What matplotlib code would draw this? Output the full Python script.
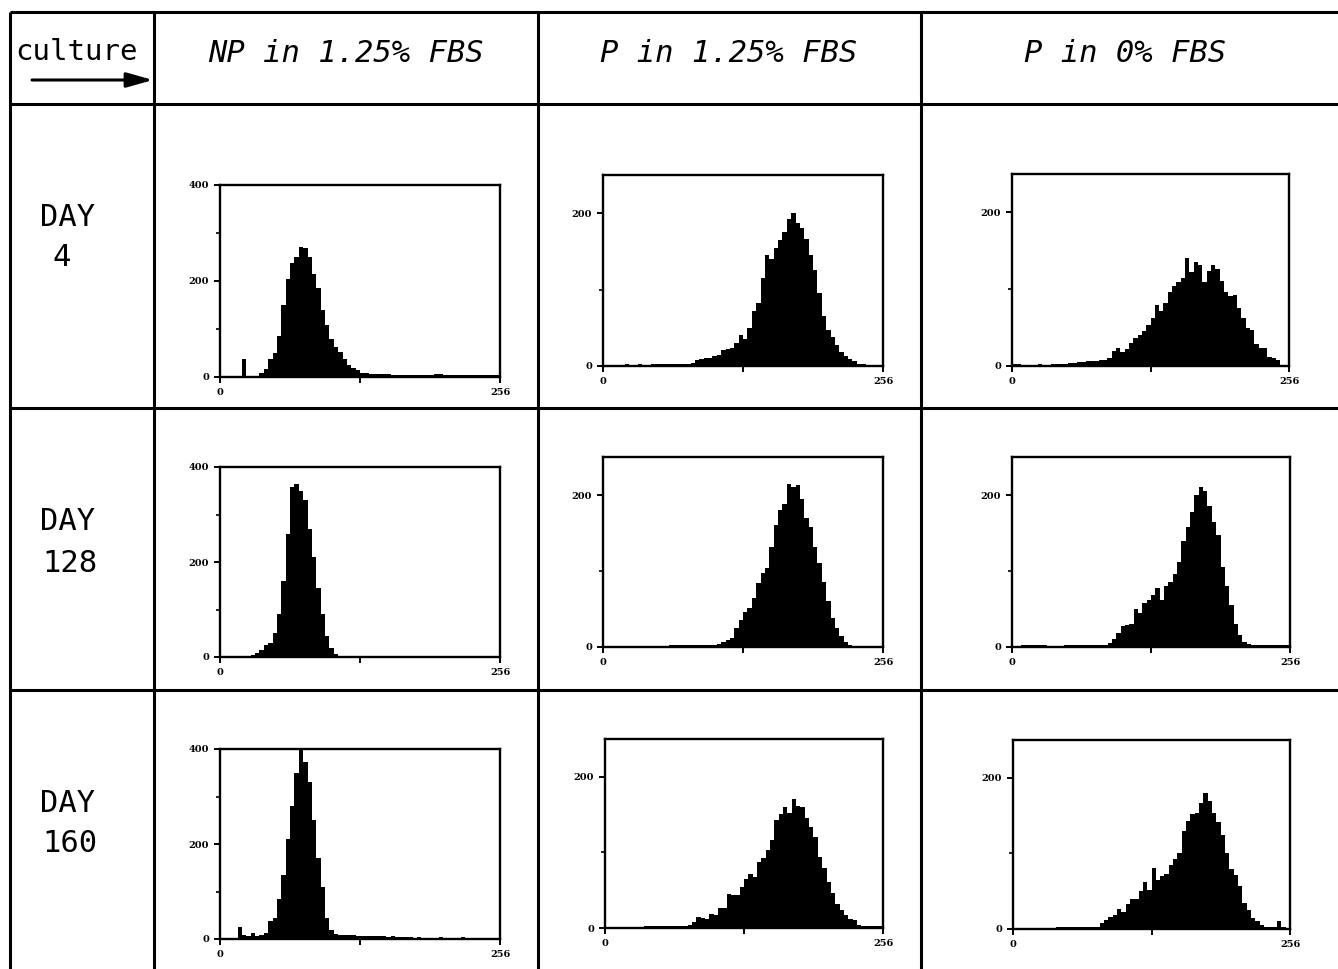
import matplotlib
matplotlib.use("Agg")
import matplotlib.pyplot as plt
import numpy as np

# ---------------- data (counts per 4-channel bin, 64 bins over 0..256) ----------------
channel_edges = np.linspace(0, 256, 65)

col_titles = ["NP in 1.25% FBS", "P in 1.25% FBS", "P in 0% FBS"]
row_days = ["4", "128", "160"]
y_max = [400, 250, 250]
y_major = [[0, 200, 400], [0, 200], [0, 200]]
y_minor = [[100, 300], [100], [100]]

np125_day4 = [2, 2, 2, 2, 3, 38, 3, 2, 3, 8, 17, 38, 50, 85, 150, 205,
              238, 250, 271, 268, 250, 215, 185, 140, 108, 80, 63, 52, 38, 25, 18, 14,
              9, 8, 7, 7, 6, 6, 6, 5, 5, 5, 5, 4, 4, 4, 4, 4,
              5, 6, 6, 5, 5, 4, 4, 5, 4, 4, 4, 5, 4, 4, 4, 4]
p125_day4 = [1, 1, 1, 1, 1, 2, 1, 1, 2, 1, 1, 2, 2, 2, 2, 2,
             2, 3, 3, 3, 4, 8, 9, 11, 10, 13, 15, 21, 22, 24, 30, 40,
             35, 50, 72, 82, 115, 145, 140, 155, 165, 175, 192, 200, 187, 180, 166, 145,
             125, 95, 65, 47, 38, 27, 18, 13, 9, 7, 3, 2, 1, 1, 1, 1]
p0_day4 = [2, 2, 1, 1, 1, 1, 2, 1, 1, 2, 2, 2, 3, 4, 4, 5,
           5, 6, 6, 7, 8, 8, 10, 19, 24, 18, 22, 30, 36, 40, 46, 54,
           63, 80, 72, 82, 96, 104, 110, 115, 140, 122, 135, 132, 110, 124, 131, 126,
           111, 96, 91, 92, 76, 63, 50, 47, 28, 23, 23, 12, 10, 8, 0, 0]

np125_day128 = [2, 3, 3, 2, 3, 3, 3, 5, 8, 15, 26, 30, 50, 90, 160, 260,
                358, 365, 350, 330, 270, 210, 145, 90, 45, 20, 6, 3, 3, 3, 3, 3,
                2, 2, 1, 1, 1, 1, 1, 1, 1, 1, 1, 1, 1, 1, 1, 1,
                1, 1, 1, 1, 1, 1, 1, 1, 1, 1, 1, 1, 1, 1, 1, 1]
p125_day128 = [1, 1, 1, 1, 1, 1, 1, 1, 1, 1, 1, 1, 1, 1, 1, 2,
               2, 2, 2, 2, 2, 2, 2, 2, 2, 2, 4, 7, 9, 12, 25, 35,
               46, 51, 64, 84, 98, 104, 132, 160, 180, 188, 215, 210, 213, 195, 170, 158,
               131, 110, 85, 60, 38, 25, 14, 6, 3, 1, 1, 1, 1, 1, 1, 1]
p0_day128 = [1, 1, 2, 2, 2, 3, 2, 2, 1, 1, 1, 1, 2, 2, 2, 3,
             3, 3, 3, 3, 3, 3, 5, 10, 18, 27, 29, 30, 50, 45, 58, 62,
             68, 77, 62, 80, 86, 96, 112, 140, 158, 178, 200, 210, 205, 186, 165, 148,
             105, 80, 55, 30, 16, 7, 4, 2, 2, 2, 2, 2, 2, 2, 2, 2]

np125_day160 = [3, 3, 3, 3, 25, 8, 7, 12, 6, 8, 13, 37, 45, 85, 135, 210,
                280, 350, 398, 372, 330, 250, 170, 110, 45, 20, 11, 9, 8, 8, 8, 7,
                6, 6, 6, 6, 7, 6, 5, 6, 4, 4, 4, 4, 3, 4, 3, 3,
                3, 3, 4, 3, 3, 3, 3, 4, 3, 3, 3, 3, 3, 3, 3, 3]
p125_day160 = [1, 1, 1, 1, 1, 1, 1, 1, 1, 2, 2, 2, 2, 2, 2, 2,
               2, 3, 3, 4, 8, 15, 13, 12, 18, 17, 27, 26, 45, 43, 43, 54,
               65, 72, 68, 87, 92, 103, 116, 143, 151, 160, 152, 170, 162, 160, 146, 134,
               120, 94, 79, 61, 46, 32, 24, 17, 12, 10, 4, 2, 2, 2, 3, 2]
p0_day160 = [1, 1, 1, 1, 1, 1, 1, 1, 1, 1, 2, 2, 2, 2, 2, 2,
             3, 3, 3, 3, 8, 12, 16, 18, 26, 22, 33, 40, 40, 50, 62, 52,
             81, 65, 70, 73, 85, 92, 100, 130, 143, 152, 153, 167, 180, 169, 154, 141,
             125, 100, 80, 72, 57, 35, 25, 15, 10, 5, 3, 3, 3, 11, 2, 1]

panel_data = [[np125_day4, p125_day4, p0_day4],
              [np125_day128, p125_day128, p0_day128],
              [np125_day160, p125_day160, p0_day160]]

# ---------------- layout (pixels) ----------------
W, H = 1338, 969
fig = plt.figure(figsize=(W / 100, H / 100), dpi=100)
fig.patch.set_facecolor("white")

bg = fig.add_axes([0, 0, 1, 1])
bg.set_xlim(0, W)
bg.set_ylim(H, 0)
bg.axis("off")

lw_grid = 2.2
col_x = [10, 154, 538, 921]
row_y = [12, 104, 408, 690]
for x in col_x:
    bg.plot([x, x], [12, H + 5], color="black", lw=lw_grid, solid_capstyle="butt")
for y in row_y:
    bg.plot([10, W + 5], [y, y], color="black", lw=lw_grid, solid_capstyle="butt")

mono = "DejaVu Sans Mono"
bg.text(76, 52, "culture", ha="center", va="center", fontsize=21, family=mono)
bg.annotate("", xy=(153, 80), xytext=(32, 80),
            arrowprops=dict(arrowstyle="-|>,head_length=1.6,head_width=0.45",
                            color="black", lw=2.2, shrinkA=0, shrinkB=0))

title_cx = [346, 729, 1125]
for cx, t in zip(title_cx, col_titles):
    bg.text(cx, 53, t, ha="center", va="center", fontsize=22, family=mono,
            style="italic")

day_y = [(217, 258), (522, 563), (803, 843)]
num_x = [62, 70, 70]
for (yd, yn), d, nx in zip(day_y, row_days, num_x):
    bg.text(68, yd, "DAY", ha="center", va="center", fontsize=22, family=mono)
    bg.text(nx, yn, d, ha="center", va="center", fontsize=22, family=mono)

boxes = [[(220, 185, 500, 377), (603, 175, 883, 366), (1012, 174, 1289, 366)],
         [(220, 467, 500, 657), (603, 457, 883, 647), (1012, 457, 1290, 647)],
         [(220, 749, 500, 939), (605, 739, 883, 928), (1013, 740, 1290, 929)]]

tick_font = dict(family="DejaVu Serif", fontsize=7, fontweight="bold")

for r in range(3):
    for c in range(3):
        l, t, rr, b = boxes[r][c]
        ax = fig.add_axes([l / W, 1 - b / H, (rr - l) / W, (b - t) / H])
        ax.stairs(panel_data[r][c], channel_edges, fill=True, color="black",
                  lw=0)
        ax.set_xlim(0, 256)
        ax.set_ylim(0, y_max[c])
        for s in ax.spines.values():
            s.set_linewidth(1.7)
            s.set_color("black")
        ax.set_yticks(y_major[c])
        ax.set_yticklabels([str(v) for v in y_major[c]], **tick_font)
        ax.set_yticks(y_minor[c], minor=True)
        ax.set_xticks([0, 128, 256])
        ax.set_xticklabels(["0", "", "256"], **tick_font)
        ax.tick_params(axis="both", which="major", direction="out", length=4,
                       width=1.4, pad=4)
        ax.tick_params(axis="y", which="minor", direction="out", length=3,
                       width=1.2)
        ax.set_facecolor("white")

fig.savefig("out.png", dpi=100, facecolor="white")
